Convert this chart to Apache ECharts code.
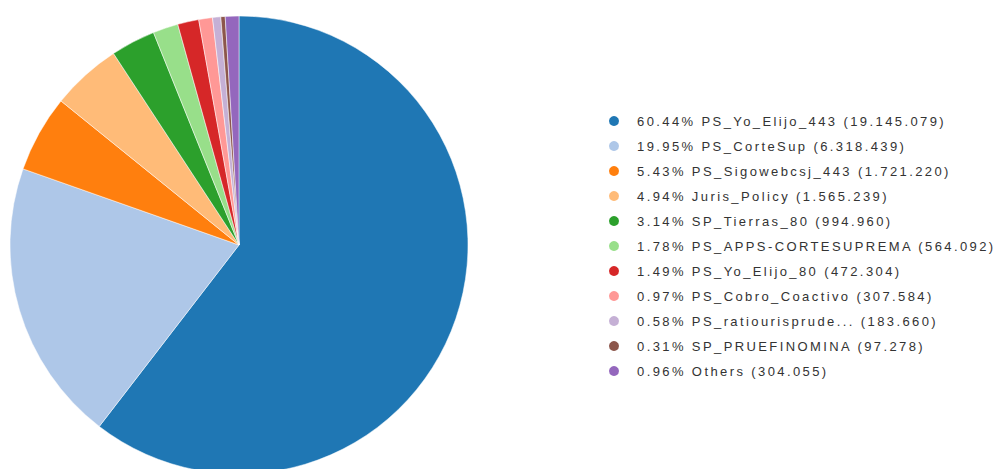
<!DOCTYPE html>
<html><head><meta charset="utf-8">
<script src="https://cdn.jsdelivr.net/npm/echarts@6/dist/echarts.min.js"></script>
<style>html,body{margin:0;padding:0;background:#fff}#c{width:997px;height:469px}#c svg text{letter-spacing:2.4px}</style>
</head><body><div id="c"></div>
<script>
const names = ["PS_Yo_Elijo_443","PS_CorteSup","PS_Sigowebcsj_443","Juris_Policy","SP_Tierras_80","PS_APPS-CORTESUPREMA","PS_Yo_Elijo_80","PS_Cobro_Coactivo","PS_ratiourisprude...","SP_PRUEFINOMINA","Others"];
const values = [19145079,6318439,1721220,1565239,994960,564092,472304,307584,183660,97278,304055];
const colors = ["#1f77b4","#aec7e8","#ff7f0e","#ffbb78","#2ca02c","#98df8a","#d62728","#ff9896","#c5b0d5","#8c564b","#9467bd"];
const total = values.reduce((a,b)=>a+b,0);
const fmt = v => String(v).replace(/\B(?=(\d{3})+(?!\d))/g,'.');
const chart = echarts.init(document.getElementById('c'), null, {renderer:'svg'});
chart.setOption({
  animation:false,
  color: colors,
  legend:{
    orient:'vertical', left:602, top:109, icon:'circle', itemWidth:12, itemHeight:12, itemGap:11,
    textStyle:{color:'#333', fontSize:13, lineHeight:14, fontFamily:'Liberation Sans', padding:[0,0,0,12]},
    formatter: n => { const i = names.indexOf(n); return (values[i]/total*100).toFixed(2)+'% '+n+' ('+fmt(values[i])+')'; }
  },
  series:[{
    type:'pie', center:[239,245], radius:229, startAngle:90, clockwise:true,
    label:{show:false}, labelLine:{show:false},
    itemStyle:{borderColor:'#fff', borderWidth:0.5},
    data: names.map((n,i)=>({name:n, value:values[i]}))
  }]
});
</script></body></html>
